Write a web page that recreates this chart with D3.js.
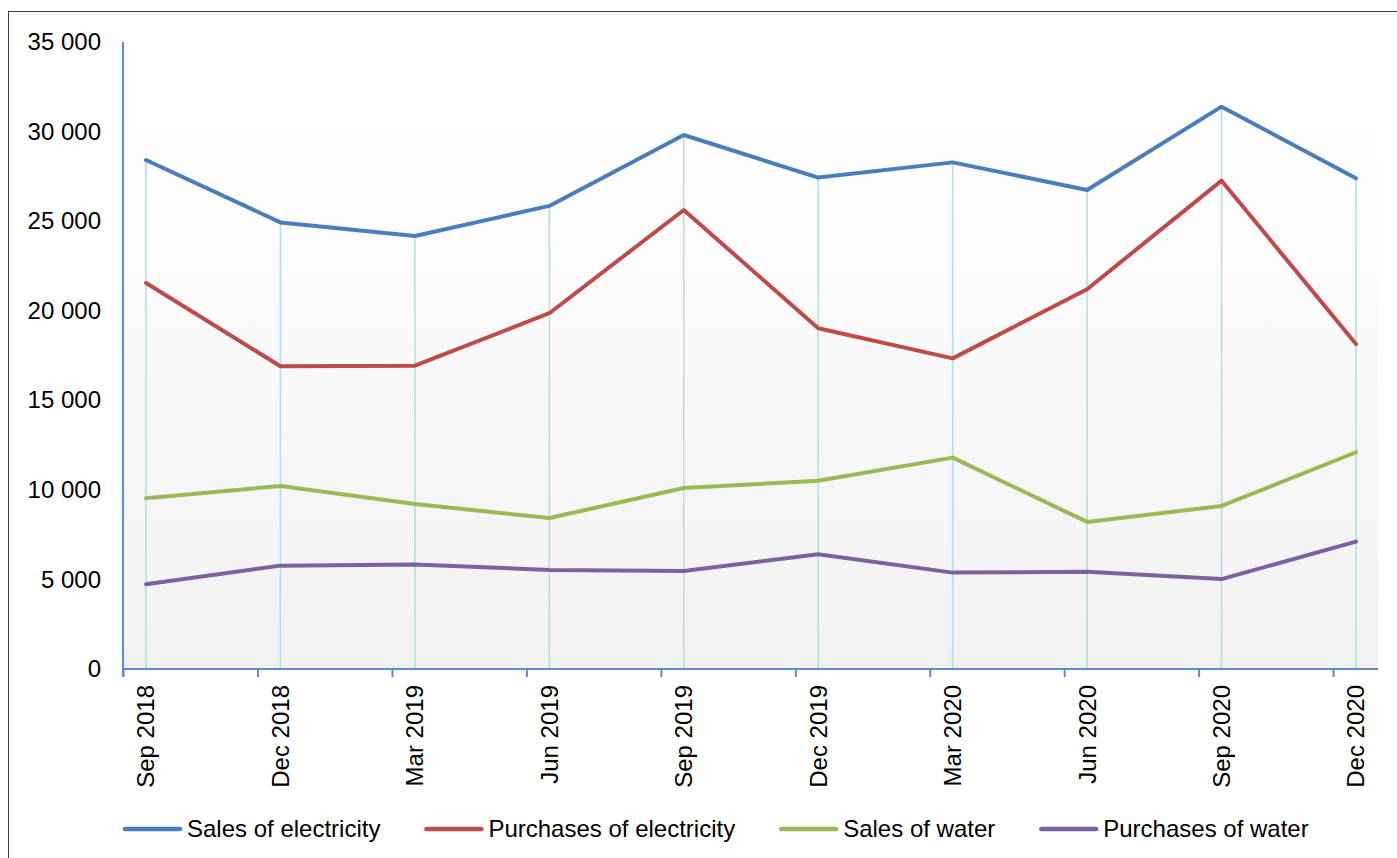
<!DOCTYPE html>
<html>
<head>
<meta charset="utf-8">
<script src="https://cdn.jsdelivr.net/npm/d3@7"></script>
<style>
  html, body { margin: 0; padding: 0; background: #fff; }
  svg { display: block; font-family: "Liberation Sans", Arial, sans-serif; }
</style>
</head>
<body>
<svg id="chart" width="1397" height="858"></svg>
<script>
// ---- data ----
const categories = ["Sep 2018","Dec 2018","Mar 2019","Jun 2019","Sep 2019","Dec 2019","Mar 2020","Jun 2020","Sep 2020","Dec 2020"];
const salesElectricity     = [28410, 24930, 24170, 25850, 29810, 27430, 28280, 26740, 31390, 27390];
const purchasesElectricity = [21550, 16900, 16930, 19860, 25620, 19020, 17340, 21200, 27260, 18140];
const salesWater           = [9530, 10220, 9210, 8430, 10100, 10510, 11800, 8210, 9100, 12100];
const purchasesWater       = [4730, 5770, 5840, 5530, 5470, 6400, 5380, 5430, 5020, 7110];
const seriesNames  = ["Sales of electricity","Purchases of electricity","Sales of water","Purchases of water"];
const seriesColors = ["#4a7ebb","#be4b48","#98b954","#7d60a0"];
const yTicks = [0, 5000, 10000, 15000, 20000, 25000, 30000, 35000];

const series = [salesElectricity, purchasesElectricity, salesWater, purchasesWater]
  .map((vals, i) => ({ name: seriesNames[i], color: seriesColors[i], values: vals }));

// ---- layout ----
const svg = d3.select("#chart");
const plot = { left: 123, right: 1378, top: 42, bottom: 669 };

const x = d3.scalePoint().domain(categories).range([146, 1356]);
const y = d3.scaleLinear().domain([0, 35000]).range([plot.bottom, plot.top]);
const step = x.step();
const tickOffset = step / 6;

// outer border
svg.append("rect")
  .attr("x", 8.5).attr("y", 11.5).attr("width", 1400).attr("height", 860)
  .attr("fill", "none").attr("stroke", "#3a3a3a").attr("stroke-width", 1);

// gradient background
const defs = svg.append("defs");
const grad = defs.append("linearGradient").attr("id", "bg").attr("x1", 0).attr("y1", 0).attr("x2", 0).attr("y2", 1);
grad.append("stop").attr("offset", "0%").attr("stop-color", "#ffffff");
grad.append("stop").attr("offset", "12%").attr("stop-color", "#ffffff");
grad.append("stop").attr("offset", "100%").attr("stop-color", "#f1f1f1");
svg.append("rect")
  .attr("x", plot.left).attr("y", plot.top)
  .attr("width", plot.right - plot.left).attr("height", plot.bottom - plot.top)
  .attr("fill", "url(#bg)");

// drop lines
const maxVals = categories.map((c, i) => d3.max(series, s => s.values[i]));
svg.append("g").selectAll("line").data(categories).join("line")
  .attr("x1", d => x(d)).attr("x2", d => x(d))
  .attr("y1", (d, i) => y(maxVals[i])).attr("y2", plot.bottom)
  .attr("stroke", "#b7dde8").attr("stroke-width", 1.6);

// y axis
const axisColor = "#5b8bd0";
const yAxis = d3.axisLeft(y).tickValues(yTicks).tickSize(0).tickPadding(22)
  .tickFormat(d => d3.format(",")(d).replace(/,/g, " "));
const gy = svg.append("g").attr("transform", `translate(${plot.left},0)`).call(yAxis);
gy.select(".domain").remove();
gy.selectAll("text").attr("font-size", 24).attr("fill", "#000")
  .attr("font-family", "Liberation Sans, Arial, sans-serif");
svg.append("line")
  .attr("x1", plot.left).attr("x2", plot.left)
  .attr("y1", plot.top).attr("y2", plot.bottom + 8)
  .attr("stroke", axisColor).attr("stroke-width", 2);

// x axis
svg.append("line")
  .attr("x1", plot.left).attr("x2", plot.right)
  .attr("y1", plot.bottom).attr("y2", plot.bottom)
  .attr("stroke", axisColor).attr("stroke-width", 2);
svg.append("g").selectAll("line").data(categories).join("line")
  .attr("x1", d => x(d) - tickOffset).attr("x2", d => x(d) - tickOffset)
  .attr("y1", plot.bottom).attr("y2", plot.bottom + 8)
  .attr("stroke", axisColor).attr("stroke-width", 2);
svg.append("g").selectAll("text").data(categories).join("text")
  .attr("transform", d => `translate(${x(d)},${plot.bottom + 16}) rotate(-90)`)
  .attr("text-anchor", "end").attr("dy", "0.35em")
  .attr("font-size", 24).attr("fill", "#000")
  .text(d => d);

// lines
const line = d3.line().x((d, i) => x(categories[i])).y(d => y(d));
svg.append("g").selectAll("path").data(series).join("path")
  .attr("d", s => line(s.values))
  .attr("fill", "none").attr("stroke", s => s.color)
  .attr("stroke-width", 4).attr("stroke-linejoin", "round").attr("stroke-linecap", "round");

// legend
const legend = svg.append("g");
let lx = 125;
const ly = 829;
series.forEach(s => {
  legend.append("line")
    .attr("x1", lx).attr("x2", lx + 55).attr("y1", ly).attr("y2", ly)
    .attr("stroke", s.color).attr("stroke-width", 4.5).attr("stroke-linecap", "round");
  const t = legend.append("text")
    .attr("x", lx + 62).attr("y", ly).attr("dy", "0.35em")
    .attr("font-size", 24).attr("fill", "#000").text(s.name);
  lx = lx + 62 + t.node().getComputedTextLength() + 46;
});
</script>
</body>
</html>
